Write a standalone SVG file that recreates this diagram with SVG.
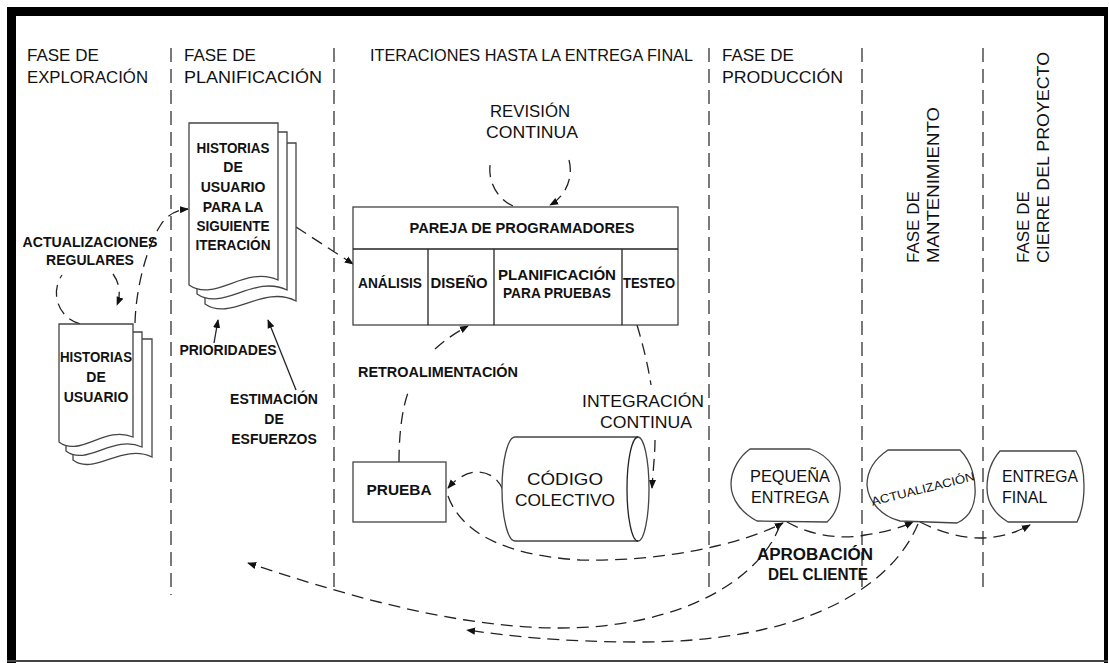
<svg xmlns="http://www.w3.org/2000/svg" width="1109" height="663" viewBox="0 0 1109 663">
<style>
.t{font-family:"Liberation Sans",Arial,sans-serif;fill:#111}
.h{font-size:17px}
.l{font-size:14px;font-weight:bold}
.m{font-size:16px;font-weight:bold}
.r{font-size:17px}
.lane{stroke:#333;stroke-width:1.3;stroke-dasharray:14 7;fill:none}
.c{fill:none;stroke:#222;stroke-width:1.3;stroke-dasharray:12 7}
.cs{fill:none;stroke:#222;stroke-width:1.3}
.shape{fill:#fff;stroke:#444;stroke-width:1.3}
</style>
<defs>
<marker id="ah" viewBox="0 0 10 10" refX="9" refY="5" markerWidth="9" markerHeight="9" markerUnits="userSpaceOnUse" orient="auto"><path d="M0,1 L10,5 L0,9 Z" fill="#111"/></marker>
</defs>
<rect width="1109" height="663" fill="#fff"/>
<g id="frame">
<rect x="7" y="7" width="1100" height="9" fill="#000"/>
<rect x="7" y="7" width="9" height="656" fill="#000"/>
<rect x="1104" y="7" width="4" height="656" fill="#000"/>
<rect x="7" y="660" width="1101" height="2" fill="#444"/>
</g>
<g id="lanes">
<line class="lane" x1="171" y1="48" x2="171" y2="595"/>
<line class="lane" x1="334" y1="48" x2="334" y2="590"/>
<line class="lane" x1="709" y1="48" x2="709" y2="592"/>
<line class="lane" x1="862" y1="48" x2="862" y2="590"/>
<line class="lane" x1="983" y1="48" x2="983" y2="592"/>
</g>
<g id="headers">
<text class="t h" x="27" y="61">FASE DE</text>
<text class="t h" x="27" y="83" textLength="121" lengthAdjust="spacingAndGlyphs">EXPLORACIÓN</text>
<text class="t h" x="184" y="61">FASE DE</text>
<text class="t h" x="184" y="83" textLength="138" lengthAdjust="spacingAndGlyphs">PLANIFICACIÓN</text>
<text class="t h" x="370" y="61" textLength="323" lengthAdjust="spacingAndGlyphs">ITERACIONES HASTA LA ENTREGA FINAL</text>
<text class="t h" x="722" y="61">FASE DE</text>
<text class="t h" x="722" y="83" textLength="121" lengthAdjust="spacingAndGlyphs">PRODUCCIÓN</text>
<text class="t h" transform="translate(919 263) rotate(-90)">FASE DE</text>
<text class="t h" transform="translate(939 263) rotate(-90)" textLength="156" lengthAdjust="spacingAndGlyphs">MANTENIMIENTO</text>
<text class="t h" transform="translate(1029 263) rotate(-90)">FASE DE</text>
<text class="t h" transform="translate(1049 263) rotate(-90)" textLength="211" lengthAdjust="spacingAndGlyphs">CIERRE DEL PROYECTO</text>
</g>
<g id="connectors">
<path class="c" d="M80,324 A32 32 0 0 1 62,275 M113,274 A32 32 0 0 1 117,305" marker-end="url(#ah)"/>
<path class="c" d="M135,323 C136,285 148,245 160,226 C166,216 175,210 188,209" marker-end="url(#ah)"/>
<path class="c" d="M296,227 L353,264" marker-end="url(#ah)"/>
<path class="c" d="M513,206 A40 40 0 0 1 491,160 M569,160 A40 40 0 0 1 550,205" marker-end="url(#ah)"/>
<path class="cs" d="M214,343 L218,320" marker-end="url(#ah)"/>
<path class="cs" d="M296,390 L268,320" marker-end="url(#ah)"/>
<path class="c" d="M399,462 C399,430 403,405 409,390 M435,349 C445,340 455,333 468,326" marker-end="url(#ah)"/>
<path class="c" d="M637,325 C643,345 648,365 651,385 M655,440 C655,455 653,470 652,488" marker-end="url(#ah)"/>
<path class="c" d="M503,490 C495,470 470,463 448,488" marker-end="url(#ah)"/>
<path class="c" d="M448,496 C460,530 500,555 580,560 C660,562 740,545 783,523" marker-end="url(#ah)"/>
<path class="c" d="M787,522 C810,535 840,540 865,535 C885,532 900,528 913,522" marker-end="url(#ah)"/>
<path class="c" d="M920,522 C940,532 960,538 980,538 C1000,538 1015,533 1030,525" marker-end="url(#ah)"/>
<path class="c" d="M780,525 C760,580 680,628 560,628 C450,628 330,590 248,563" marker-end="url(#ah)"/>
<path class="c" d="M918,524 C890,590 800,642 640,642 C560,642 510,636 467,630" marker-end="url(#ah)"/>
</g>
<g id="doc-exploracion">
<path class="shape" d="M73,460 C94,476 122,443 152,457 V339 H73 Z"/>
<path class="shape" d="M66,451 C87,467 113,434 142,447 V332 H66 Z"/>
<path class="shape" d="M59,442 C80,458 105,425 133,437 V324 H59 Z"/>
<text class="t l" x="96" y="362" text-anchor="middle" textLength="72" lengthAdjust="spacingAndGlyphs">HISTORIAS</text>
<text class="t l" x="96" y="382" text-anchor="middle">DE</text>
<text class="t l" x="96" y="402" text-anchor="middle">USUARIO</text>
</g>
<g id="label-actualizaciones">
<text class="t l" x="90" y="247" text-anchor="middle" textLength="135" lengthAdjust="spacingAndGlyphs">ACTUALIZACIONES</text>
<text class="t l" x="90" y="265" text-anchor="middle">REGULARES</text>
</g>
<g id="doc-planificacion">
<path class="shape" d="M205,304 C231,322 263,284 296,301 V143 H205 Z"/>
<path class="shape" d="M197,294 C223,312 254,274 287,290 V132 H197 Z"/>
<path class="shape" d="M189,285 C215,303 245,265 278,280 V123 H189 Z"/>
<text class="t l" x="233" y="153" text-anchor="middle" textLength="73" lengthAdjust="spacingAndGlyphs">HISTORIAS</text>
<text class="t l" x="233" y="172" text-anchor="middle">DE</text>
<text class="t l" x="233" y="192" text-anchor="middle">USUARIO</text>
<text class="t l" x="233" y="212" text-anchor="middle">PARA LA</text>
<text class="t l" x="233" y="231" text-anchor="middle" textLength="73" lengthAdjust="spacingAndGlyphs">SIGUIENTE</text>
<text class="t l" x="233" y="250" text-anchor="middle" textLength="75" lengthAdjust="spacingAndGlyphs">ITERACIÓN</text>
</g>
<g id="label-prioridades">
<text class="t l" x="228" y="355" text-anchor="middle">PRIORIDADES</text>
</g>
<g id="label-estimacion">
<text class="t l" x="274" y="404" text-anchor="middle">ESTIMACIÓN</text>
<text class="t l" x="274" y="424" text-anchor="middle">DE</text>
<text class="t l" x="274" y="444" text-anchor="middle">ESFUERZOS</text>
</g>
<g id="label-revision">
<text class="t r" x="530" y="117" text-anchor="middle" textLength="80" lengthAdjust="spacingAndGlyphs">REVISIÓN</text>
<text class="t r" x="532" y="138" text-anchor="middle" textLength="92" lengthAdjust="spacingAndGlyphs">CONTINUA</text>
</g>
<g id="table-pareja">
<rect class="shape" x="353" y="207" width="325" height="118"/>
<line class="cs" x1="353" y1="249" x2="678" y2="249"/>
<line class="cs" x1="428" y1="249" x2="428" y2="325"/>
<line class="cs" x1="494" y1="249" x2="494" y2="325"/>
<line class="cs" x1="622" y1="249" x2="622" y2="325"/>
<text class="t l" x="522" y="233" text-anchor="middle" textLength="225" lengthAdjust="spacingAndGlyphs">PAREJA DE PROGRAMADORES</text>
<text class="t l" x="390" y="288" text-anchor="middle" textLength="64" lengthAdjust="spacingAndGlyphs">ANÁLISIS</text>
<text class="t l" x="459" y="288" text-anchor="middle" textLength="57" lengthAdjust="spacingAndGlyphs">DISEÑO</text>
<text class="t l" x="557" y="280" text-anchor="middle" textLength="118" lengthAdjust="spacingAndGlyphs">PLANIFICACIÓN</text>
<text class="t l" x="557" y="298" text-anchor="middle" textLength="108" lengthAdjust="spacingAndGlyphs">PARA PRUEBAS</text>
<text class="t l" x="649" y="288" text-anchor="middle" textLength="52" lengthAdjust="spacingAndGlyphs">TESTEO</text>
</g>
<g id="label-retro">
<text class="t l" x="438" y="377" text-anchor="middle" textLength="160" lengthAdjust="spacingAndGlyphs">RETROALIMENTACIÓN</text>
</g>
<g id="label-integracion">
<text class="t r" x="643" y="407" text-anchor="middle" textLength="122" lengthAdjust="spacingAndGlyphs">INTEGRACIÓN</text>
<text class="t r" x="646" y="428" text-anchor="middle" textLength="92" lengthAdjust="spacingAndGlyphs">CONTINUA</text>
</g>
<g id="node-prueba">
<rect class="shape" x="353" y="462" width="93" height="60"/>
<text class="t" x="399" y="495" text-anchor="middle" font-size="15" font-weight="bold" textLength="65" lengthAdjust="spacingAndGlyphs">PRUEBA</text>
</g>
<g id="node-codigo">
<path class="shape" d="M515,437 H638 A11 52 0 0 1 638,541 H515 A13 52 0 0 1 515,437 Z"/>
<path class="cs" d="M638,437 A11 52 0 0 0 638,541"/>
<text class="t r" x="565" y="485" text-anchor="middle" textLength="76" lengthAdjust="spacingAndGlyphs">CÓDIGO</text>
<text class="t r" x="565" y="506" text-anchor="middle" textLength="100" lengthAdjust="spacingAndGlyphs">COLECTIVO</text>
</g>
<g id="node-pequena">
<path class="shape" d="M750,449 L810,449 C830,455 842,475 840,492 C839,505 835,515 827,522 L757,521 C742,513 731,500 731,484 C731,470 740,456 750,449 Z"/>
<text class="t" x="790" y="482" text-anchor="middle" font-size="16" textLength="80" lengthAdjust="spacingAndGlyphs">PEQUEÑA</text>
<text class="t" x="790" y="503" text-anchor="middle" font-size="16" textLength="78" lengthAdjust="spacingAndGlyphs">ENTREGA</text>
</g>
<g id="node-actualizacion">
<path class="shape" d="M888,450 L960,450 C972,462 976,480 975,495 C974,508 968,518 957,523 L900,521 C880,516 868,500 867,485 C867,470 876,458 888,450 Z"/>
<text class="t" x="923" y="493" text-anchor="middle" font-size="12" transform="rotate(-14 923 489)" textLength="106" lengthAdjust="spacingAndGlyphs">ACTUALIZACIÓN</text>
</g>
<g id="node-final">
<path class="shape" d="M1000,451 L1076,451 C1082,460 1084,472 1084,486 C1084,500 1082,512 1077,522 L1008,522 C995,514 987,502 987,488 C987,473 992,460 1000,451 Z"/>
<text class="t" x="1002" y="482" font-size="16" textLength="76" lengthAdjust="spacingAndGlyphs">ENTREGA</text>
<text class="t" x="1002" y="503" font-size="16">FINAL</text>
</g>
<g id="label-aprobacion">
<text class="t m" x="815" y="560" text-anchor="middle" textLength="116" lengthAdjust="spacingAndGlyphs">APROBACIÓN</text>
<text class="t m" x="818" y="580" text-anchor="middle" textLength="100" lengthAdjust="spacingAndGlyphs">DEL CLIENTE</text>
</g>
</svg>
